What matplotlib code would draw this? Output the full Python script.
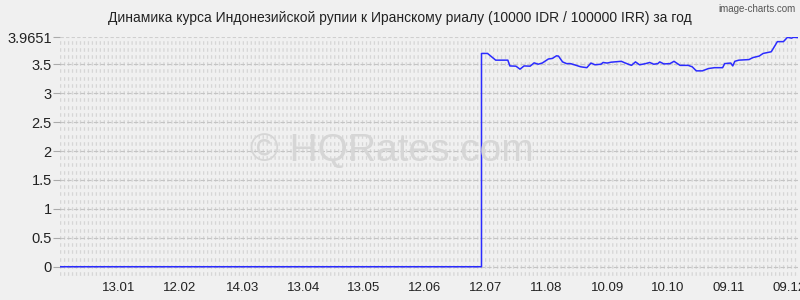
import numpy as np
import pandas as pd
import matplotlib
matplotlib.use("Agg")
import matplotlib.pyplot as plt

plt.rcParams['font.family'] = ['Liberation Sans', 'DejaVu Sans']

title = "Динамика курса Индонезийской рупии к Иранскому риалу (10000 IDR / 100000 IRR) за год"

dates = ["2023-12-15", "2024-07-10", "2024-07-10", "2024-07-13", "2024-07-17",
         "2024-07-23", "2024-07-24", "2024-07-27", "2024-07-29", "2024-07-31",
         "2024-08-03", "2024-08-05", "2024-08-07", "2024-08-09", "2024-08-12",
         "2024-08-14", "2024-08-16", "2024-08-17", "2024-08-19", "2024-08-21",
         "2024-08-23", "2024-08-28", "2024-08-31", "2024-09-02", "2024-09-04",
         "2024-09-07", "2024-09-08", "2024-09-10", "2024-09-12", "2024-09-17",
         "2024-09-19", "2024-09-22", "2024-09-24", "2024-09-26", "2024-09-29",
         "2024-10-01", "2024-10-03", "2024-10-05", "2024-10-06", "2024-10-08",
         "2024-10-11", "2024-10-13", "2024-10-16", "2024-10-20", "2024-10-22",
         "2024-10-24", "2024-10-27", "2024-10-30", "2024-11-02", "2024-11-06",
         "2024-11-07", "2024-11-10", "2024-11-11", "2024-11-12", "2024-11-14",
         "2024-11-19", "2024-11-21", "2024-11-24", "2024-11-26", "2024-11-30",
         "2024-12-02", "2024-12-03", "2024-12-06", "2024-12-08", "2024-12-10",
         "2024-12-11", "2024-12-13"]
rates = [0, 0, 3.686, 3.686, 3.57,
         3.57, 3.47, 3.466, 3.414, 3.47,
         3.466, 3.523, 3.50, 3.52, 3.59,
         3.60, 3.645, 3.64, 3.54, 3.51,
         3.51, 3.455, 3.44, 3.52, 3.49,
         3.50, 3.53, 3.52, 3.535, 3.55,
         3.52, 3.48, 3.54, 3.49, 3.51,
         3.53, 3.50, 3.51, 3.54, 3.505,
         3.51, 3.55, 3.48, 3.48, 3.455,
         3.385, 3.385, 3.425, 3.44, 3.44,
         3.51, 3.52, 3.47, 3.55, 3.57,
         3.58, 3.615, 3.64, 3.686, 3.715,
         3.83, 3.89, 3.89, 3.965, 3.95,
         3.9651, 3.96]

tick_dates = ["2024-01-13", "2024-02-12", "2024-03-14", "2024-04-13", "2024-05-13",
              "2024-06-12", "2024-07-12", "2024-08-11", "2024-09-10", "2024-10-10",
              "2024-11-09", "2024-12-09"]
tick_labels = ["13.01", "12.02", "14.03", "13.04", "13.05", "12.06",
               "12.07", "11.08", "10.09", "10.10", "09.11", "09.12"]
y_ticks = [0, 0.5, 1, 1.5, 2, 2.5, 3, 3.5, 3.9651]
y_labels = ["0", "0.5", "1", "1.5", "2", "2.5", "3", "3.5", "3.9651"]

x = pd.to_datetime(dates)
bg = "#f0f0f0"

fig = plt.figure(figsize=(8, 3), dpi=100, facecolor=bg)
ax = fig.add_axes([0.075, 0.08, 0.922, 0.7957], facecolor=bg)

# minor grid every 0.125, major dashed every 0.5
for v in np.arange(-0.125, 3.97, 0.125):
    ax.axhline(v, color="#d6d6d6", lw=2.6, ls=(0, (0.35, 0.75)), zorder=1)
for v in np.arange(0, 3.6, 0.5):
    ax.axhline(v, color="#c4c4c4", lw=0.8, ls=(0, (4, 2)), zorder=1)
ax.axhline(3.9651, color="#cfcfcf", lw=0.8, ls=(0, (3, 2)), zorder=1)
ax.axhline(-0.16, color="#cfcfcf", lw=0.8, ls=(0, (1, 2)), zorder=1)

ax.plot(x, rates, color="#2b2bff", lw=1.1, zorder=3)

ax.set_xlim(pd.Timestamp("2023-12-15"), pd.Timestamp("2024-12-13"))
ax.set_ylim(-0.16, 3.9651)
ax.set_xticks(pd.to_datetime(tick_dates))
ax.set_xticklabels(tick_labels)
ax.set_yticks(y_ticks)
ax.set_yticklabels(y_labels)
ax.tick_params(axis="x", length=0, labelsize=9.5, colors="#222222", pad=4)
ax.tick_params(axis="y", length=5, width=0.8, color="#aaaaaa", labelsize=10.5,
               labelcolor="#222222", pad=1)
for s in ax.spines.values():
    s.set_visible(False)

fig.text(0.5, 0.94, title, ha="center", va="center", fontsize=10, color="#222222")
fig.text(0.995, 0.985, "image-charts.com", ha="right", va="top", fontsize=7,
         color="#555555")
fig.text(0.49, 0.495, "© HQRates.com", ha="center", va="center", fontsize=28,
         color="#d6d6d6", zorder=0)

fig.savefig("out.png", dpi=100, facecolor=bg)
